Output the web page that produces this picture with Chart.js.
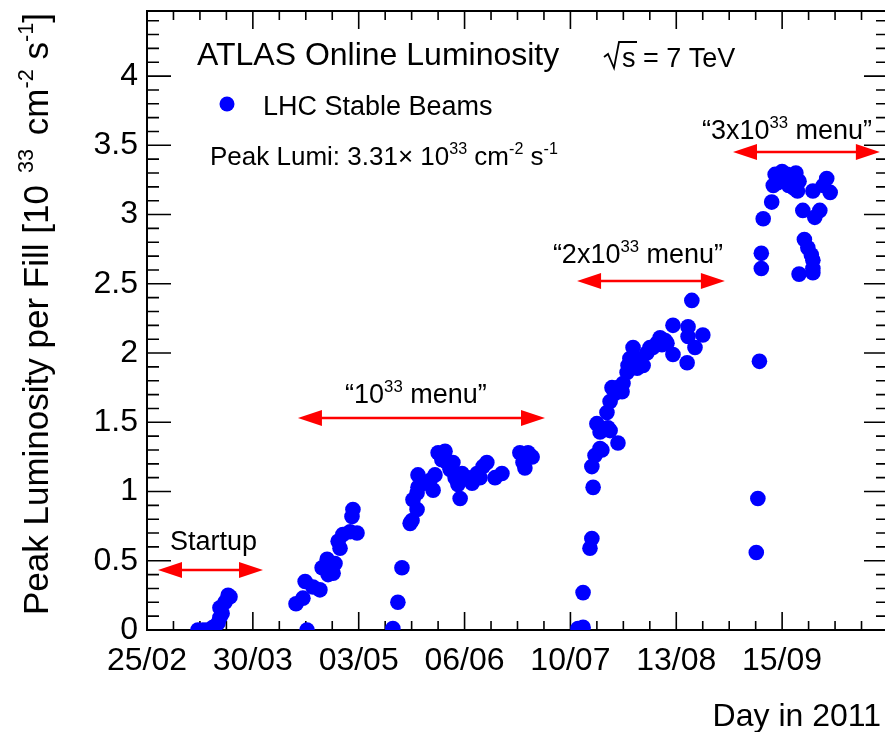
<!DOCTYPE html>
<html><head><meta charset="utf-8">
<script src="https://cdn.jsdelivr.net/npm/chart.js@4.4.1/dist/chart.umd.min.js"></script>
<style>html,body{margin:0;padding:0;background:#fff;}canvas{display:block;}</style>
</head><body>
<canvas id="c" width="885" height="732"></canvas>
<script>
// ---- axis definitions (day of year 2011) ----
const xTickDays   = [56, 89.67, 123.33, 157, 190.67, 224.33, 258];
const xTickLabels = ['25/02','30/03','03/05','06/06','10/07','13/08','15/09'];
const xAxisMin = 56, xAxisMax = 290.74, xFrameMax = 291.69, xDivision = 33.67;
const yTickValues = [0,0.5,1,1.5,2,2.5,3,3.5,4];
const yTickLabels = ['0','0.5','1','1.5','2','2.5','3','3.5','4'];
const yAxisMin = 0, yAxisMax = 4.47;

// ---- data: peak luminosity per fill [1e33 cm-2 s-1] ----
const startupDays = [72.2,73.8,75.1,77.0,78.6,79.2,79.9,79.2,80.8,81.8,82.4];
const startupLumi = [0.00,0.00,0.00,0.02,0.05,0.09,0.12,0.16,0.20,0.25,0.24];

const aprilDays = [103.4,105.6,106.3,106.9,108.8,111.0,111.7,113.3,113.6,115.2,115.8,116.8,117.4,118.3,120.6,121.2,121.5,122.8];
const aprilLumi = [0.19,0.23,0.35,0.00,0.31,0.29,0.45,0.51,0.40,0.41,0.48,0.64,0.59,0.69,0.71,0.82,0.87,0.70];

const mayJuneDays = [134.2,135.8,137.1,139.7,140.3,141.9,140.6,141.9,142.2,142.2,143.8,146.0,147.0,147.6,148.6,149.8,150.8,151.4,152.4,153.3,154.0,154.9,155.6,156.2,157.8,159.4,161.0,161.9,162.9,164.1,166.7,168.9,174.6,175.6,176.2,177.2,178.5];
const mayJuneLumi = [0.01,0.20,0.45,0.77,0.79,0.87,0.94,0.99,1.03,1.12,1.06,1.08,1.01,1.12,1.28,1.23,1.29,1.21,1.16,1.21,1.10,1.05,0.95,1.13,1.10,1.06,1.13,1.10,1.18,1.21,1.10,1.13,1.28,1.21,1.17,1.28,1.25];

const julyAugDays = [193.1,194.7,194.7,196.9,197.5,197.9,197.5,198.5,199.1,200.1,200.1,200.7,202.3,202.6,203.3,203.3,203.9,204.9,205.8,205.8,207.1,207.4,208.7,209.0,209.6,210.6,211.2,211.9,212.8,213.8,215.0,216.0,216.9,218.2,219.2,219.8,220.8,221.4,223.3,223.3,227.8,228.1,228.1,229.3,230.3,232.8];
const julyAugLumi = [0.01,0.02,0.27,0.59,0.66,1.03,1.18,1.26,1.49,1.31,1.43,1.30,1.57,1.46,1.44,1.65,1.75,1.71,1.35,1.75,1.72,1.78,1.86,1.91,1.96,2.04,1.97,1.89,1.93,1.91,2.00,2.04,2.04,2.07,2.11,2.06,2.09,2.07,1.99,2.20,1.93,2.12,2.19,2.38,2.04,2.13];

const septDays = [249.8,250.3,250.8,251.4,251.4,252.0,254.7,255.2,255.8,256.6,258.0,259.6,260.1,261.8,262.4,263.4,262.9,264.6,268.4,267.8,270.0,271.1,272.2,273.3,265.1,266.2,267.3,267.8,267.8,263.4,267.8];
const septLumi = [0.56,0.95,1.94,2.61,2.72,2.97,3.09,3.21,3.29,3.23,3.31,3.29,3.21,3.19,3.30,3.24,3.17,3.03,2.98,3.17,3.03,3.21,3.26,3.16,2.82,2.76,2.71,2.67,2.61,2.57,2.58];

// ---- menu annotations (data coordinates) ----
const menuArrows = [
  {x1: 59.5,  x2: 92.9,  y: 0.433},
  {x1: 104.0, x2: 182.6, y: 1.531},
  {x1: 192.8, x2: 239.8, y: 2.520},
  {x1: 242.4, x2: 289.1, y: 3.451}
];
const menuTexts = [
  {x: 63.3,  y: 0.578, runs: [{t:'Startup'}]},
  {x: 119.0, y: 1.639, runs: [{t:'\u201C10'},{t:'33',sup:true},{t:' menu\u201D'}]},
  {x: 185.1, y: 2.650, runs: [{t:'\u201C2x10'},{t:'33',sup:true},{t:' menu\u201D'}]},
  {x: 232.5, y: 3.545, runs: [{t:'\u201C3x10'},{t:'33',sup:true},{t:' menu\u201D'}]}
];

const FONT = '"Liberation Sans", Arial, Helvetica, sans-serif';
const BLUE = '#0000ff', RED = '#ff0000';
function fnt(s){ return s + 'px ' + FONT; }
function pairs(xs, ys){ return xs.map((x,i)=>({x:x, y:ys[i]})); }

function drawRuns(ctx, runs, x, y, size){
  let cx = x;
  for (const r of runs){
    const s = r.sup ? size*0.62 : size;
    ctx.font = fnt(s);
    ctx.fillText(r.t, cx, r.sup ? y - size*0.42 : y);
    cx += ctx.measureText(r.t).width + (r.gap || 0);
  }
  return cx;
}
function drawArrow(ctx, x1, x2, y){
  const hl = 24, hw = 8;
  ctx.beginPath(); ctx.moveTo(x1 + hl - 2, y); ctx.lineTo(x2 - hl + 2, y); ctx.stroke();
  ctx.beginPath(); ctx.moveTo(x1, y); ctx.lineTo(x1 + hl, y - hw); ctx.lineTo(x1 + hl, y + hw); ctx.closePath(); ctx.fill();
  ctx.beginPath(); ctx.moveTo(x2, y); ctx.lineTo(x2 - hl, y - hw); ctx.lineTo(x2 - hl, y + hw); ctx.closePath(); ctx.fill();
}

const framePlugin = {
  id: 'frame',
  beforeDatasetsDraw(chart){
    const ctx = chart.ctx, xs = chart.scales.x, ys = chart.scales.y;
    const {left, top, bottom} = chart.chartArea;
    const fr = xs.getPixelForValue(xFrameMax);
    ctx.save();
    ctx.strokeStyle = '#000'; ctx.lineWidth = 2;
    ctx.beginPath();
    ctx.moveTo(left, bottom); ctx.lineTo(left, top); ctx.lineTo(fr, top); ctx.lineTo(fr, bottom); ctx.closePath();
    ctx.stroke();
    ctx.lineWidth = 1.6;
    ctx.beginPath();
    const nx = Math.round((xFrameMax - xAxisMin) / (xDivision/4));
    for (let k = 0; k <= nx; k++){
      const px = xs.getPixelForValue(xAxisMin + k * xDivision / 4);
      const len = (k % 4 === 0) ? 18 : 9;
      ctx.moveTo(px, bottom); ctx.lineTo(px, bottom - len);
      ctx.moveTo(px, top); ctx.lineTo(px, top + len);
    }
    for (let k = 0; k * 0.1 <= yAxisMax + 1e-9; k++){
      const py = ys.getPixelForValue(k * 0.1);
      const len = (k % 5 === 0) ? 24 : 12;
      ctx.moveTo(left, py); ctx.lineTo(left + len, py);
      ctx.moveTo(fr, py); ctx.lineTo(fr - len, py);
    }
    ctx.stroke();
    ctx.restore();
  },
  afterDraw(chart){
    const ctx = chart.ctx, xs = chart.scales.x, ys = chart.scales.y;
    ctx.save();
    ctx.fillStyle = '#000'; ctx.textBaseline = 'alphabetic'; ctx.textAlign = 'left';
    // title block
    ctx.font = fnt(32); ctx.fillText('ATLAS Online Luminosity', 197, 65);
    ctx.strokeStyle = '#000'; ctx.lineWidth = 1.8;
    ctx.beginPath(); ctx.moveTo(604, 57); ctx.lineTo(608, 54); ctx.lineTo(614, 68); ctx.lineTo(619, 42); ctx.lineTo(637, 42); ctx.stroke();
    ctx.font = fnt(27); ctx.fillText('s = 7 TeV', 622, 67);
    // legend
    ctx.fillStyle = BLUE; ctx.beginPath(); ctx.arc(227, 104, 7.5, 0, Math.PI*2); ctx.fill();
    ctx.fillStyle = '#000'; ctx.font = fnt(27); ctx.fillText('LHC Stable Beams', 263, 115);
    drawRuns(ctx, [{t:'Peak Lumi: 3.31\u00D7 10'},{t:'33',sup:true},{t:' cm'},{t:'-2',sup:true},{t:' s'},{t:'-1',sup:true}], 210, 165, 26);
    // menu annotations
    for (const t of menuTexts){
      drawRuns(ctx, t.runs, xs.getPixelForValue(t.x), ys.getPixelForValue(t.y), 27);
    }
    ctx.strokeStyle = RED; ctx.fillStyle = RED; ctx.lineWidth = 2.5;
    for (const a of menuArrows){
      drawArrow(ctx, xs.getPixelForValue(a.x1), xs.getPixelForValue(a.x2), ys.getPixelForValue(a.y));
    }
    // axis titles
    ctx.fillStyle = '#000';
    ctx.font = fnt(32); ctx.textAlign = 'right'; ctx.fillText('Day in 2011', 881, 726);
    ctx.textAlign = 'left';
    ctx.translate(48, 615); ctx.rotate(-Math.PI/2);
    drawRuns(ctx, [{t:'Peak Luminosity per Fill [10', gap: 12},{t:'33',sup:true, gap: 4},{t:' cm'},{t:'-2',sup:true},{t:' s'},{t:'-1',sup:true},{t:']'}], 0, 0, 35);
    ctx.restore();
  }
};

const ptStyle = {backgroundColor: BLUE, borderColor: BLUE, borderWidth: 0, pointRadius: 7.8, pointHoverRadius: 7.8};
new Chart(document.getElementById('c'), {
  type: 'scatter',
  data: { datasets: [
    Object.assign({label:'Startup', data: pairs(startupDays, startupLumi)}, ptStyle),
    Object.assign({label:'April', data: pairs(aprilDays, aprilLumi)}, ptStyle),
    Object.assign({label:'May-June', data: pairs(mayJuneDays, mayJuneLumi)}, ptStyle),
    Object.assign({label:'July-August', data: pairs(julyAugDays, julyAugLumi)}, ptStyle),
    Object.assign({label:'September', data: pairs(septDays, septLumi)}, ptStyle)
  ]},
  options: {
    responsive: false, animation: false, devicePixelRatio: 1,
    layout: {autoPadding: false, padding: {top: 11, left: 0, right: 0, bottom: 0}},
    plugins: {legend: {display: false}, tooltip: {enabled: false}},
    scales: {
      x: {
        type: 'linear', min: xAxisMin, max: xAxisMax,
        grid: {display: false, drawTicks: false}, border: {display: false},
        afterBuildTicks: s => { s.ticks = xTickDays.map(v => ({value: v})); },
        afterFit: s => { s.height = 102; s.paddingLeft = 0; s.paddingRight = 0; },
        ticks: {font: {family: FONT, size: 32}, color: '#000', padding: 12, maxRotation: 0, autoSkip: false,
                callback: (v, i) => xTickLabels[i]}
      },
      y: {
        type: 'linear', min: yAxisMin, max: yAxisMax,
        grid: {display: false, drawTicks: false}, border: {display: false},
        afterBuildTicks: s => { s.ticks = yTickValues.map(v => ({value: v})); },
        afterFit: s => { s.width = 147; s.paddingTop = 0; s.paddingBottom = 0; },
        ticks: {font: {family: FONT, size: 32}, color: '#000', padding: 9, autoSkip: false,
                callback: (v, i) => yTickLabels[i]}
      }
    }
  },
  plugins: [framePlugin]
});
</script>
</body></html>
